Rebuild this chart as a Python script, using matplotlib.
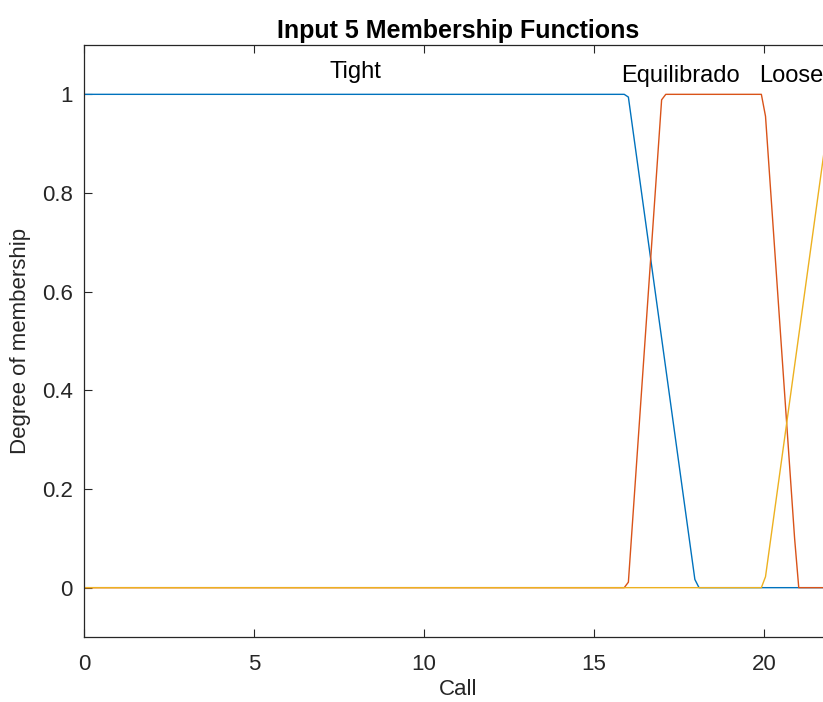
import numpy as np
import matplotlib.pyplot as plt

plt.rcParams['font.family'] = ['Liberation Sans', 'DejaVu Sans']

# membership functions (trapezoids: a, b, c, d) for input 5 "Call"
names = ["Tight", "Equilibrado", "Loose"]
params = [[-8, 0, 16, 18], [16, 17, 20, 21], [20, 22, 30, 32]]
colors = ["#0072BD", "#D95319", "#EDB120"]
label_x = [7.97, 17.55, 20.8]
label_y = [1.045, 1.038, 1.038]

x_range = [0, 22]
x = np.linspace(x_range[0], x_range[1], 181)


def trapmf(x, p):
    a, b, c, d = p
    return np.interp(x, [a, b, c, d], [0, 1, 1, 0], left=0, right=0)


fig = plt.figure(figsize=(8.23, 7.02), dpi=100)
ax = fig.add_axes([84 / 823, 1 - 637 / 702, 748 / 823, 592 / 702])

for name, p, c, lx, ly in zip(names, params, colors, label_x, label_y):
    ax.plot(x, trapmf(x, p), color=c, lw=1.0)
    ax.text(lx, ly, name, ha='center', va='center', fontsize=17)

ax.set_xlim(x_range)
ax.set_ylim(-0.1, 1.1)
ax.set_xticks([0, 5, 10, 15, 20])
ax.set_yticks([0, 0.2, 0.4, 0.6, 0.8, 1])
ax.set_yticklabels(["0", "0.2", "0.4", "0.6", "0.8", "1"])
ax.tick_params(direction='in', length=6, width=0.8, colors='#262626',
               labelsize=16, top=True, right=True, pad=8)
ax.tick_params(axis='x', pad=12)
for s in ax.spines.values():
    s.set_color('#262626')
    s.set_linewidth(0.9)

ax.set_title("Input 5 Membership Functions", fontsize=18, fontweight='bold', pad=5)
ax.set_xlabel("Call", fontsize=16, color='#262626', labelpad=3)
ax.set_ylabel("Degree of membership", fontsize=16, color='#262626', labelpad=8)

fig.savefig("out.png", dpi=100)
